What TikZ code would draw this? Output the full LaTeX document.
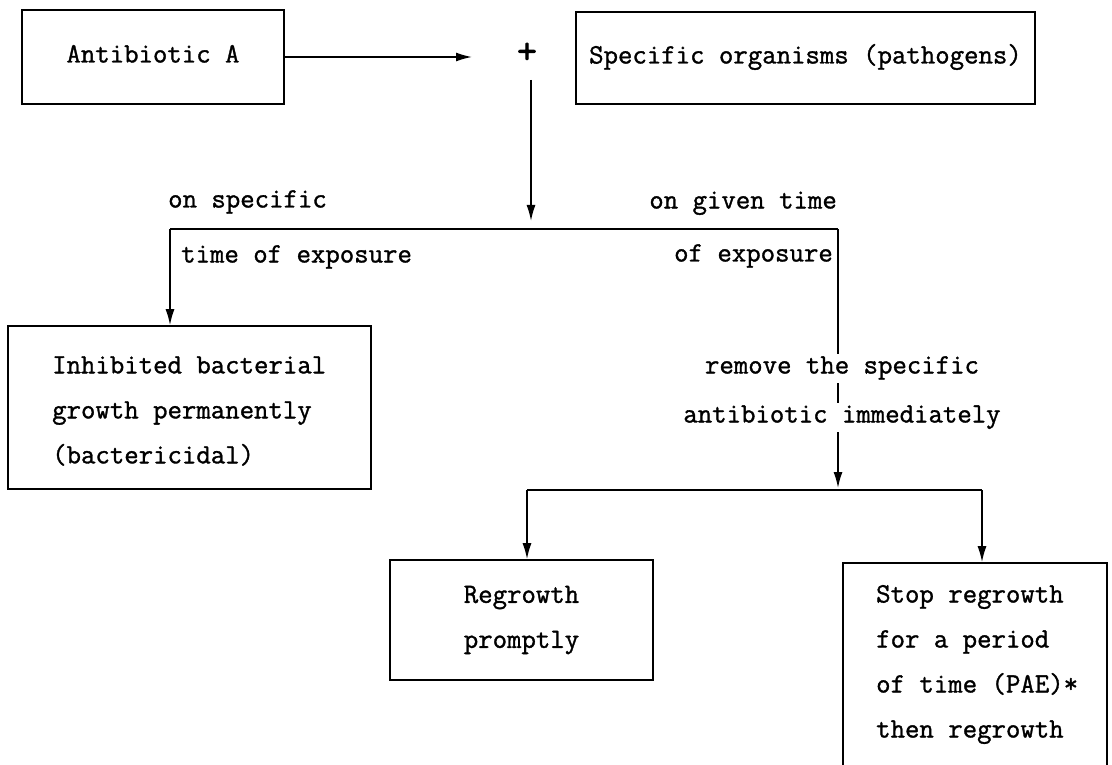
\documentclass[tikz,border=0pt]{standalone}
\usepackage{fontspec}
\newfontfamily\twfont{lmmono12-regular.otf}[FakeBold=1.2]
\newfontfamily\plusfont{lmmono12-regular.otf}[FakeBold=2.5]
\usetikzlibrary{arrows.meta}
\begin{document}
\begin{tikzpicture}[x=1pt,y=-1pt,
  box/.style={draw, line width=1.6pt, inner sep=0pt},
  ln/.style={line width=1.6pt},
  arr/.style={line width=1.6pt, -{Latex[length=16pt,width=9pt]}},
  tfont/.style={font=\fontsize{28}{45}\selectfont\twfont},
  lbl/.style={tfont, inner sep=0pt, text height=17pt, text depth=6pt},
  mtxt/.style={tfont, inner sep=0pt},
]
\useasboundingbox (0,0) rectangle (1112,765);
\clip (0,0) rectangle (1112,765);

% boxes
\node[box, lbl, minimum width=262pt, minimum height=94pt] (A) at (153,57) {Antibiotic A};
\node[box, lbl, minimum width=459pt, minimum height=92pt] (S) at (805.5,58) {Specific organisms (pathogens)};
\node[inner sep=0pt, font=\fontsize{38}{38}\selectfont\plusfont] (plus) at (527,53) {+};

\node[box, minimum width=363pt, minimum height=163pt] (inh) at (189.5,407.5) {};
\node[mtxt, align=left, anchor=west] (inhT) at (52,411) {Inhibited bacterial\\growth permanently\\(bactericidal)};

\node[box, mtxt, align=center, minimum width=263pt, minimum height=120pt] (reg) at (521.5,620) {Regrowth\\promptly};

\node[box, minimum width=264pt, minimum height=210pt] (stop) at (975,668) {};
\node[mtxt, align=left, anchor=west] (stopT) at (876,664.5) {Stop regrowth\\for a period\\of time (PAE)*\\then regrowth};

% labels
\node[lbl, anchor=west] (onspec) at (168,202) {on specific};
\node[lbl, anchor=west] (timeexp) at (181,257) {time of exposure};
\node[lbl, anchor=east] (ongiven) at (837,203) {on given time};
\node[lbl, anchor=east] (ofexp) at (833,256) {of exposure};

% junction coordinates
\coordinate (aEnd) at (472,57);
\coordinate (pTop) at (531,80);
\coordinate (j1) at (531,229);
\coordinate (jL) at (170,229);
\coordinate (jR) at (838,229);
\coordinate (j2) at (838,490);
\coordinate (jLL) at (527,490);
\coordinate (jRR) at (982,490);

% connectors
\draw[arr] (A.east) -- (aEnd);
\draw[arr, shorten >=8pt] (pTop) -- (j1);
\draw[ln] (jL) -- (jR);
\draw[arr] (jL) -- (jL |- inh.north);
\draw[arr, shorten >=2pt] (jR) -- (j2);
\draw[ln] (jLL) -- (jRR);
\draw[arr] (jLL) -- (jLL |- reg.north);
\draw[arr] (jRR) -- (jRR |- stop.north);

% labels over the right vertical line
\node[lbl, fill=white, inner xsep=0pt, inner ysep=3pt] (remove) at (842,368) {remove the specific};
\node[lbl, fill=white, inner xsep=0pt, inner ysep=3pt] (antib) at (842,417) {antibiotic immediately};
\end{tikzpicture}
\end{document}
